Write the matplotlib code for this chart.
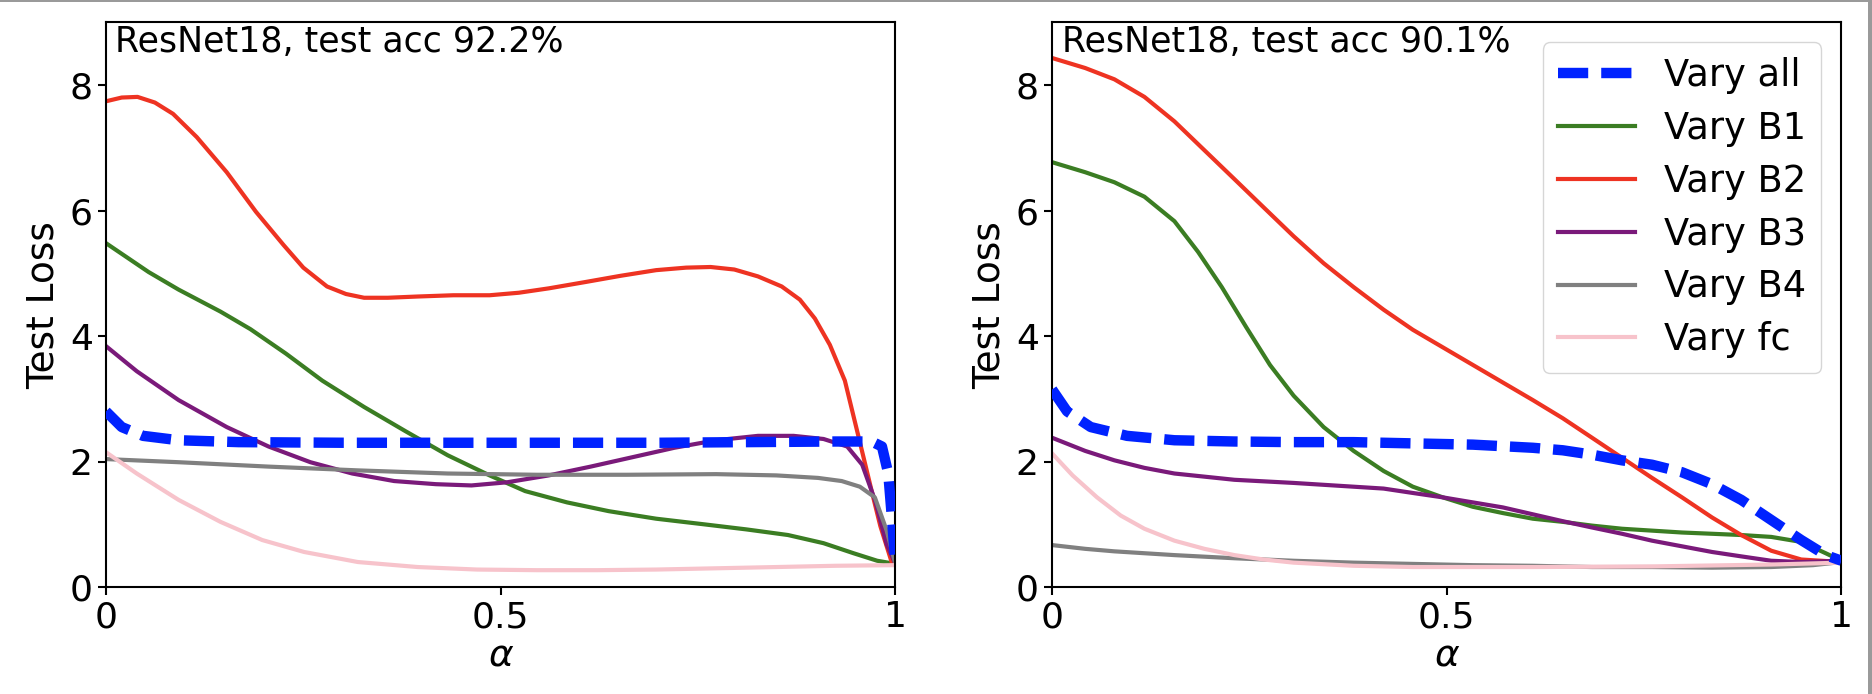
import numpy as np
import matplotlib
matplotlib.use('Agg')
import matplotlib.pyplot as plt
from matplotlib.patches import Rectangle

# ---- left panel: ResNet18, test acc 92.2% ----
left_all_x = [0, 0.02, 0.047, 0.092, 0.168, 0.3, 0.5, 0.7, 0.924, 0.97, 0.983, 0.991, 0.996, 1.0]
left_all_y = [2.80, 2.55, 2.41, 2.34, 2.31, 2.30, 2.30, 2.30, 2.32, 2.32, 2.24, 1.81, 1.04, 0.37]

left_b1_x = [0, 0.054, 0.092, 0.145, 0.183, 0.228, 0.274, 0.327, 0.38, 0.433, 0.486, 0.531,
             0.584, 0.637, 0.697, 0.758, 0.811, 0.864, 0.909, 0.947, 0.977, 1.0]
left_b1_y = [5.48, 5.02, 4.74, 4.39, 4.11, 3.72, 3.29, 2.87, 2.48, 2.10, 1.78, 1.53,
             1.35, 1.21, 1.09, 1.00, 0.92, 0.83, 0.70, 0.54, 0.42, 0.37]

left_b2_x = [0, 0.02, 0.04, 0.062, 0.085, 0.115, 0.153, 0.19, 0.225, 0.25, 0.28, 0.304, 0.327,
             0.357, 0.395, 0.44, 0.486, 0.523, 0.561, 0.607, 0.652, 0.697, 0.735, 0.766, 0.796,
             0.826, 0.856, 0.879, 0.898, 0.917, 0.936, 0.955, 0.97, 0.981, 0.996, 1.0]
left_b2_y = [7.74, 7.80, 7.81, 7.72, 7.54, 7.17, 6.61, 5.98, 5.45, 5.09, 4.79, 4.67, 4.61,
             4.61, 4.63, 4.65, 4.65, 4.69, 4.76, 4.86, 4.96, 5.05, 5.09, 5.10, 5.06,
             4.95, 4.79, 4.58, 4.28, 3.86, 3.29, 2.31, 1.53, 0.97, 0.37, 0.37]

left_b3_x = [0, 0.039, 0.092, 0.153, 0.206, 0.259, 0.312, 0.365, 0.418, 0.463, 0.508, 0.561,
             0.614, 0.667, 0.72, 0.773, 0.826, 0.871, 0.909, 0.939, 0.958, 0.974, 0.989, 1.0]
left_b3_y = [3.84, 3.44, 2.98, 2.55, 2.24, 1.99, 1.81, 1.69, 1.64, 1.62, 1.67, 1.78,
             1.92, 2.07, 2.22, 2.34, 2.41, 2.41, 2.36, 2.24, 1.95, 1.39, 0.68, 0.37]

left_b4_x = [0, 0.092, 0.206, 0.319, 0.433, 0.546, 0.66, 0.773, 0.849, 0.902, 0.932, 0.955,
             0.974, 0.989, 1.0]
left_b4_y = [2.04, 1.99, 1.92, 1.86, 1.81, 1.79, 1.79, 1.80, 1.78, 1.74, 1.69, 1.60,
             1.43, 0.90, 0.37]

left_fc_x = [0, 0.039, 0.092, 0.145, 0.198, 0.251, 0.319, 0.395, 0.47, 0.546, 0.622, 0.697,
             0.773, 0.849, 0.924, 1.0]
left_fc_y = [2.15, 1.81, 1.39, 1.04, 0.75, 0.56, 0.40, 0.32, 0.28, 0.27, 0.27, 0.28,
             0.30, 0.32, 0.34, 0.35]

# ---- right panel: ResNet18, test acc 90.1% ----
right_all_x = [0, 0.019, 0.049, 0.095, 0.155, 0.231, 0.306, 0.382, 0.457, 0.533, 0.609, 0.647,
               0.684, 0.722, 0.76, 0.798, 0.836, 0.873, 0.911, 0.949, 0.98, 1.0]
right_all_y = [3.15, 2.80, 2.55, 2.41, 2.34, 2.32, 2.31, 2.31, 2.29, 2.27, 2.22, 2.18,
               2.11, 2.02, 1.95, 1.83, 1.64, 1.39, 1.07, 0.75, 0.51, 0.42]

right_b1_x = [0, 0.042, 0.079, 0.117, 0.155, 0.185, 0.215, 0.246, 0.276, 0.306, 0.344, 0.382,
              0.42, 0.457, 0.495, 0.533, 0.571, 0.609, 0.647, 0.684, 0.722, 0.76, 0.798,
              0.836, 0.873, 0.911, 0.949, 0.98, 1.0]
right_b1_y = [6.77, 6.61, 6.45, 6.22, 5.83, 5.34, 4.78, 4.14, 3.54, 3.05, 2.55, 2.17,
              1.85, 1.60, 1.43, 1.28, 1.18, 1.09, 1.04, 0.98, 0.93, 0.90, 0.87,
              0.85, 0.83, 0.80, 0.72, 0.54, 0.42]

right_b2_x = [0, 0.042, 0.079, 0.117, 0.155, 0.193, 0.231, 0.268, 0.306, 0.344, 0.382, 0.42,
              0.457, 0.495, 0.533, 0.571, 0.609, 0.647, 0.684, 0.722, 0.76, 0.798, 0.836,
              0.873, 0.911, 0.949, 1.0]
right_b2_y = [8.43, 8.27, 8.09, 7.81, 7.42, 6.96, 6.50, 6.05, 5.59, 5.16, 4.78, 4.42,
              4.10, 3.82, 3.54, 3.26, 2.98, 2.69, 2.38, 2.06, 1.74, 1.43, 1.11,
              0.83, 0.58, 0.44, 0.40]

right_b3_x = [0, 0.042, 0.079, 0.117, 0.155, 0.193, 0.231, 0.306, 0.382, 0.42, 0.457, 0.495,
              0.533, 0.571, 0.609, 0.647, 0.684, 0.722, 0.76, 0.798, 0.836, 0.873, 0.911,
              0.949, 1.0]
right_b3_y = [2.38, 2.17, 2.02, 1.90, 1.81, 1.76, 1.71, 1.66, 1.60, 1.57, 1.50, 1.43,
              1.35, 1.27, 1.16, 1.05, 0.95, 0.85, 0.74, 0.65, 0.56, 0.49, 0.42,
              0.40, 0.42]

right_b4_x = [0, 0.042, 0.079, 0.155, 0.231, 0.306, 0.382, 0.457, 0.533, 0.609, 0.684, 0.76,
              0.836, 0.911, 0.964, 1.0]
right_b4_y = [0.67, 0.61, 0.57, 0.51, 0.46, 0.42, 0.39, 0.37, 0.35, 0.34, 0.32, 0.32,
              0.31, 0.32, 0.35, 0.40]

right_fc_x = [0, 0.026, 0.057, 0.087, 0.117, 0.155, 0.193, 0.231, 0.268, 0.306, 0.382, 0.457,
              0.609, 0.76, 0.911, 1.0]
right_fc_y = [2.13, 1.78, 1.43, 1.14, 0.93, 0.74, 0.61, 0.51, 0.44, 0.39, 0.34, 0.32,
              0.32, 0.33, 0.36, 0.39]

labels = ['Vary all', 'Vary B1', 'Vary B2', 'Vary B3', 'Vary B4', 'Vary fc']
colors = ['#0022ff', '#3b7d23', '#ee3322', '#7a1a7a', '#808080', '#f7c3cb']
titles = ['ResNet18, test acc 92.2%', 'ResNet18, test acc 90.1%']

panels = [
    [(left_all_x, left_all_y), (left_b1_x, left_b1_y), (left_b2_x, left_b2_y),
     (left_b3_x, left_b3_y), (left_b4_x, left_b4_y), (left_fc_x, left_fc_y)],
    [(right_all_x, right_all_y), (right_b1_x, right_b1_y), (right_b2_x, right_b2_y),
     (right_b3_x, right_b3_y), (right_b4_x, right_b4_y), (right_fc_x, right_fc_y)],
]

plt.rcParams['font.family'] = ['DejaVu Sans']
plt.rcParams['mathtext.fontset'] = 'dejavusans'

fig = plt.figure(figsize=(18.72, 6.94), dpi=100)
ax_left = fig.add_axes([0.0566, 0.154, 0.4217, 0.814])
ax_right = fig.add_axes([0.562, 0.154, 0.4217, 0.814])

for ax, series, title in zip([ax_left, ax_right], panels, titles):
    for i, ((xs, ys), lab, col) in enumerate(zip(series, labels, colors)):
        if i == 0:
            ax.plot(xs, ys, color=col, lw=7.5, dashes=(2.9, 1.25), label=lab, zorder=3,
                    solid_capstyle='butt', dash_capstyle='butt')
        else:
            ax.plot(xs, ys, color=col, lw=3, label=lab, zorder=2)
    ax.set_xlim(0, 1)
    ax.set_ylim(0, 9)
    ax.set_xticks([0, 0.5, 1])
    ax.set_xticklabels(['0', '0.5', '1'])
    ax.set_yticks([0, 2, 4, 6, 8])
    ax.tick_params(labelsize=26, width=1.5, length=6)
    for sp in ax.spines.values():
        sp.set_linewidth(1.5)
    ax.set_xlabel(r'$\alpha$', fontsize=27, labelpad=2)
    ax.set_ylabel('Test Loss', fontsize=27, labelpad=6)
    ax.text(0.012, 0.995, title, transform=ax.transAxes, ha='left', va='top', fontsize=25)

ax_right.legend(loc='upper right', fontsize=26.5, handlelength=2.1, handletextpad=0.8,
                labelspacing=0.43, borderpad=0.4, borderaxespad=0.55)

# thin gray border along top and right edges of the image
fig.add_artist(Rectangle((0, 0.997), 1, 0.003, transform=fig.transFigure,
                         color='#9a9a9a', lw=0))
fig.add_artist(Rectangle((0.9978, 0), 0.0022, 1, transform=fig.transFigure,
                         color='#9a9a9a', lw=0))

fig.savefig('out.png', dpi=100)
